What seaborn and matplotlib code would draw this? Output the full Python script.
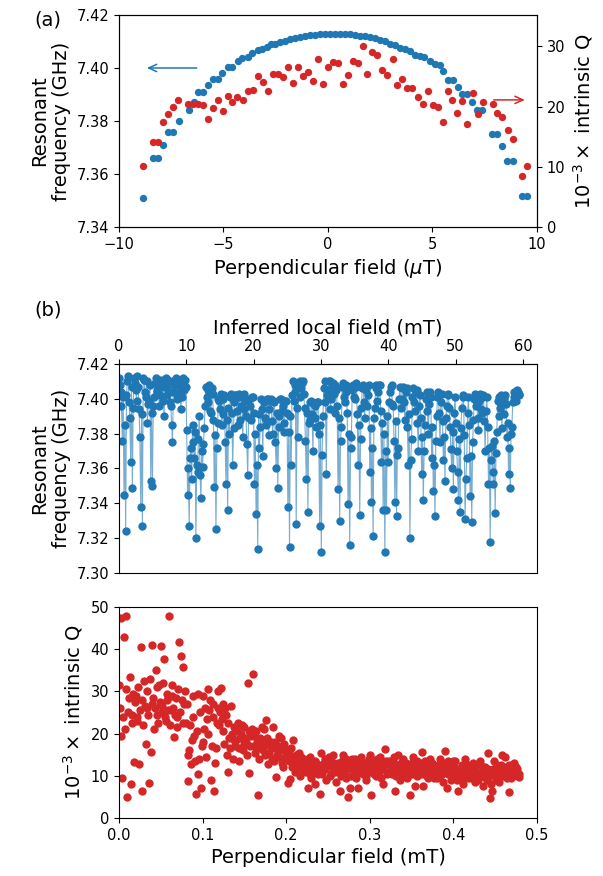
import matplotlib
matplotlib.use('Agg')
import matplotlib.pyplot as plt
import seaborn as sns
import numpy as np

# colours
BLUE = '#1f77b4'
RED = '#d62728'

# ---- panel (a): small field sweep (uT) ----
blue_field = [-8.87, -8.36, -8.12, -7.88, -7.64, -7.40, -7.14, -6.65, -6.40, -6.21,
              -5.97, -5.76, -5.52, -5.28, -5.05, -4.80, -4.58, -4.32, -4.10, -3.84,
              -3.62, -3.36, -3.17, -2.93, -2.73, -2.54, -2.30, -2.06, -1.82, -1.58,
              -1.34, -1.10, -0.86, -0.62, -0.38, -0.14, 0.10, 0.34, 0.58, 0.82,
              1.06, 1.30, 1.54, 1.78, 2.01, 2.25, 2.49, 2.73, 2.97, 3.21,
              3.44, 3.68, 3.92, 4.16, 4.40, 4.59, 4.88, 5.12, 5.36, 5.50,
              5.73, 5.96, 6.20, 6.39, 6.63, 6.87, 7.14, 7.38, 7.86, 8.10,
              8.35, 8.57, 8.83, 9.27, 9.51]
blue_freq = [7.351, 7.366, 7.366, 7.371, 7.376, 7.376, 7.380, 7.384, 7.387, 7.391,
             7.391, 7.3935, 7.396, 7.396, 7.398, 7.4005, 7.4005, 7.4025, 7.4038, 7.404,
             7.4055, 7.4068, 7.407, 7.408, 7.409, 7.4092, 7.4098, 7.4103, 7.411, 7.4112,
             7.4118, 7.412, 7.4123, 7.4125, 7.4127, 7.4128, 7.4129, 7.413, 7.4129, 7.4128,
             7.4127, 7.4125, 7.4122, 7.412, 7.4117, 7.4115, 7.4105, 7.410, 7.409, 7.4085,
             7.4075, 7.407, 7.4065, 7.405, 7.4045, 7.404, 7.4025, 7.4015, 7.401, 7.399,
             7.3955, 7.3955, 7.393, 7.390, 7.390, 7.387, 7.384, 7.384, 7.375, 7.375,
             7.3705, 7.365, 7.365, 7.3515, 7.3515]

red_field = [-8.84, -8.36, -8.12, -7.88, -7.64, -7.40, -7.16, -6.68, -6.44, -6.21,
             -5.97, -5.76, -5.52, -5.28, -5.04, -4.80, -4.58, -4.34, -4.08, -3.84,
             -3.60, -3.36, -3.12, -2.86, -2.62, -2.38, -2.14, -1.93, -1.69, -1.45,
             -1.21, -0.97, -0.73, -0.49, -0.25, -0.01, 0.25, 0.49, 0.73, 0.97,
             1.21, 1.45, 1.69, 1.88, 2.09, 2.33, 2.60, 2.84, 3.09, 3.32,
             3.56, 3.80, 4.04, 4.29, 4.53, 4.80, 5.01, 5.28, 5.52, 5.73,
             5.92, 6.19, 6.43, 6.67, 6.92, 7.16, 7.40, 7.91, 8.10, 8.35,
             8.59, 8.83, 9.26, 9.50]
red_q = [10.2, 14.1, 14.1, 17.5, 18.7, 20.0, 21.0, 20.5, 20.5, 20.5,
         20.3, 17.9, 19.7, 21.0, 19.2, 21.8, 20.7, 21.6, 21.1, 22.5,
         22.7, 25.0, 24.1, 22.5, 25.4, 25.4, 24.9, 26.5, 23.9, 26.5,
         25.1, 25.8, 24.3, 27.9, 23.7, 26.5, 27.4, 27.2, 23.7, 25.2,
         27.6, 27.2, 30.1, 25.4, 29.1, 28.6, 26.0, 25.2, 27.9, 23.5,
         24.6, 23.0, 23.0, 21.5, 20.5, 22.6, 20.3, 19.9, 17.4, 22.6,
         21.1, 18.9, 20.9, 17.1, 22.2, 18.7, 20.7, 20.5, 18.9, 18.2,
         16.1, 14.6, 8.4, 10.2]

# ---- panel (b): large field sweep (mT) ----
field_b = [0.000, 0.001, 0.002, 0.003, 0.004, 0.005, 0.006, 0.007, 0.008, 0.009,
           0.010, 0.011, 0.012, 0.013, 0.014, 0.015, 0.016, 0.017, 0.018, 0.019,
           0.020, 0.021, 0.022, 0.023, 0.024, 0.025, 0.026, 0.027, 0.028, 0.029,
           0.030, 0.031, 0.032, 0.033, 0.034, 0.035, 0.036, 0.037, 0.038, 0.039,
           0.040, 0.041, 0.042, 0.043, 0.044, 0.045, 0.046, 0.047, 0.048, 0.049,
           0.050, 0.051, 0.052, 0.053, 0.054, 0.055, 0.056, 0.057, 0.058, 0.059,
           0.060, 0.061, 0.062, 0.063, 0.064, 0.065, 0.066, 0.067, 0.068, 0.069,
           0.070, 0.071, 0.072, 0.073, 0.074, 0.075, 0.076, 0.077, 0.078, 0.079,
           0.080, 0.081, 0.082, 0.083, 0.084, 0.085, 0.086, 0.087, 0.088, 0.089,
           0.090, 0.091, 0.092, 0.093, 0.094, 0.095, 0.096, 0.097, 0.098, 0.099,
           0.100, 0.101, 0.102, 0.103, 0.104, 0.105, 0.106, 0.107, 0.108, 0.109,
           0.110, 0.111, 0.112, 0.113, 0.114, 0.115, 0.116, 0.117, 0.118, 0.119,
           0.120, 0.121, 0.122, 0.123, 0.124, 0.125, 0.126, 0.127, 0.128, 0.129,
           0.130, 0.131, 0.132, 0.133, 0.134, 0.135, 0.136, 0.137, 0.138, 0.139,
           0.140, 0.141, 0.142, 0.143, 0.144, 0.145, 0.146, 0.147, 0.148, 0.149,
           0.150, 0.151, 0.152, 0.153, 0.154, 0.155, 0.156, 0.157, 0.158, 0.159,
           0.160, 0.161, 0.162, 0.163, 0.164, 0.165, 0.166, 0.167, 0.168, 0.169,
           0.170, 0.171, 0.172, 0.173, 0.174, 0.175, 0.176, 0.177, 0.178, 0.179,
           0.180, 0.181, 0.182, 0.183, 0.184, 0.185, 0.186, 0.187, 0.188, 0.189,
           0.190, 0.191, 0.192, 0.193, 0.194, 0.195, 0.196, 0.197, 0.198, 0.199,
           0.200, 0.201, 0.202, 0.203, 0.204, 0.205, 0.206, 0.207, 0.208, 0.209,
           0.210, 0.211, 0.212, 0.213, 0.214, 0.215, 0.216, 0.217, 0.218, 0.219,
           0.220, 0.221, 0.222, 0.223, 0.224, 0.225, 0.226, 0.227, 0.228, 0.229,
           0.230, 0.231, 0.232, 0.233, 0.234, 0.235, 0.236, 0.237, 0.238, 0.239,
           0.240, 0.241, 0.242, 0.243, 0.244, 0.245, 0.246, 0.247, 0.248, 0.249,
           0.250, 0.251, 0.252, 0.253, 0.254, 0.255, 0.256, 0.257, 0.258, 0.259,
           0.260, 0.261, 0.262, 0.263, 0.264, 0.265, 0.266, 0.267, 0.268, 0.269,
           0.270, 0.271, 0.272, 0.273, 0.274, 0.275, 0.276, 0.277, 0.278, 0.279,
           0.280, 0.281, 0.282, 0.283, 0.284, 0.285, 0.286, 0.287, 0.288, 0.289,
           0.290, 0.291, 0.292, 0.293, 0.294, 0.295, 0.296, 0.297, 0.298, 0.299,
           0.300, 0.301, 0.302, 0.303, 0.304, 0.305, 0.306, 0.307, 0.308, 0.309,
           0.310, 0.311, 0.312, 0.313, 0.314, 0.315, 0.316, 0.317, 0.318, 0.319,
           0.320, 0.321, 0.322, 0.323, 0.324, 0.325, 0.326, 0.327, 0.328, 0.329,
           0.330, 0.331, 0.332, 0.333, 0.334, 0.335, 0.336, 0.337, 0.338, 0.339,
           0.340, 0.341, 0.342, 0.343, 0.344, 0.345, 0.346, 0.347, 0.348, 0.349,
           0.350, 0.351, 0.352, 0.353, 0.354, 0.355, 0.356, 0.357, 0.358, 0.359,
           0.360, 0.361, 0.362, 0.363, 0.364, 0.365, 0.366, 0.367, 0.368, 0.369,
           0.370, 0.371, 0.372, 0.373, 0.374, 0.375, 0.376, 0.377, 0.378, 0.379,
           0.380, 0.381, 0.382, 0.383, 0.384, 0.385, 0.386, 0.387, 0.388, 0.389,
           0.390, 0.391, 0.392, 0.393, 0.394, 0.395, 0.396, 0.397, 0.398, 0.399,
           0.400, 0.401, 0.402, 0.403, 0.404, 0.405, 0.406, 0.407, 0.408, 0.409,
           0.410, 0.411, 0.412, 0.413, 0.414, 0.415, 0.416, 0.417, 0.418, 0.419,
           0.420, 0.421, 0.422, 0.423, 0.424, 0.425, 0.426, 0.427, 0.428, 0.429,
           0.430, 0.431, 0.432, 0.433, 0.434, 0.435, 0.436, 0.437, 0.438, 0.439,
           0.440, 0.441, 0.442, 0.443, 0.444, 0.445, 0.446, 0.447, 0.448, 0.449,
           0.450, 0.451, 0.452, 0.453, 0.454, 0.455, 0.456, 0.457, 0.458, 0.459,
           0.460, 0.461, 0.462, 0.463, 0.464, 0.465, 0.466, 0.467, 0.468, 0.469,
           0.470, 0.471, 0.472, 0.473, 0.474, 0.475, 0.476, 0.477, 0.478, 0.479]

freq_b = [
    7.412, 7.408, 7.404, 7.396, 7.376, 7.401, 7.345, 7.385, 7.324, 7.402, 7.410, 7.413, 7.398, 7.389, 7.364, 7.407, 7.349, 7.395, 7.412, 7.409,
    7.405, 7.399, 7.413, 7.407, 7.394, 7.378, 7.338, 7.391, 7.327, 7.412, 7.411, 7.404, 7.401, 7.410, 7.386, 7.397, 7.399, 7.408, 7.353, 7.392,
    7.350, 7.396, 7.401, 7.409, 7.412, 7.404, 7.405, 7.411, 7.396, 7.402, 7.411, 7.407, 7.408, 7.399, 7.390, 7.410, 7.412, 7.406, 7.402, 7.411,
    7.410, 7.398, 7.396, 7.385, 7.375, 7.404, 7.408, 7.411, 7.412, 7.400, 7.403, 7.409, 7.411, 7.406, 7.394, 7.401, 7.412, 7.409, 7.405, 7.411,
    7.407, 7.382, 7.345, 7.360, 7.327, 7.366, 7.372, 7.354, 7.385, 7.375, 7.366, 7.381, 7.320, 7.362, 7.358, 7.377, 7.390, 7.356, 7.343, 7.370,
    7.361, 7.374, 7.383, 7.396, 7.407, 7.401, 7.398, 7.405, 7.408, 7.393, 7.392, 7.406, 7.403, 7.388, 7.3495, 7.379, 7.325, 7.372, 7.386, 7.400,
    7.399, 7.394, 7.403, 7.385, 7.391, 7.400, 7.402, 7.375, 7.351, 7.388, 7.336, 7.395, 7.380, 7.401, 7.403, 7.392, 7.362, 7.383, 7.398, 7.402,
    7.402, 7.393, 7.385, 7.401, 7.403, 7.388, 7.396, 7.402, 7.378, 7.394, 7.403, 7.399, 7.390, 7.374, 7.356, 7.389, 7.400, 7.396, 7.388, 7.401,
    7.401, 7.392, 7.351, 7.380, 7.334, 7.362, 7.314, 7.391, 7.372, 7.384, 7.400, 7.394, 7.367, 7.399, 7.398, 7.389, 7.385, 7.400, 7.400, 7.379,
    7.394, 7.399, 7.400, 7.387, 7.380, 7.398, 7.399, 7.375, 7.360, 7.392, 7.349, 7.384, 7.390, 7.400, 7.400, 7.393, 7.396, 7.381, 7.386, 7.399,
    7.399, 7.392, 7.338, 7.381, 7.315, 7.390, 7.362, 7.402, 7.410, 7.399, 7.404, 7.408, 7.328, 7.395, 7.378, 7.407, 7.410, 7.401, 7.406, 7.409,
    7.410, 7.403, 7.395, 7.376, 7.354, 7.392, 7.335, 7.386, 7.388, 7.398, 7.399, 7.391, 7.370, 7.397, 7.396, 7.389, 7.384, 7.398, 7.398, 7.380,
    7.327, 7.385, 7.312, 7.368, 7.390, 7.406, 7.410, 7.398, 7.357, 7.402, 7.405, 7.410, 7.410, 7.394, 7.400, 7.407, 7.409, 7.403, 7.392, 7.408,
    7.405, 7.396, 7.348, 7.389, 7.330, 7.376, 7.384, 7.407, 7.409, 7.401, 7.398, 7.408, 7.404, 7.392, 7.3395, 7.380, 7.316, 7.372, 7.378, 7.405,
    7.408, 7.401, 7.400, 7.407, 7.409, 7.391, 7.362, 7.385, 7.3335, 7.377, 7.395, 7.406, 7.408, 7.398, 7.389, 7.405, 7.407, 7.396, 7.402, 7.408,
    7.358, 7.383, 7.341, 7.372, 7.321, 7.389, 7.395, 7.406, 7.408, 7.399, 7.404, 7.408, 7.408, 7.393, 7.364, 7.386, 7.336, 7.380, 7.312, 7.370,
    7.336, 7.390, 7.364, 7.398, 7.404, 7.407, 7.408, 7.397, 7.396, 7.376, 7.341, 7.387, 7.3325, 7.368, 7.372, 7.400, 7.407, 7.395, 7.400, 7.406,
    7.407, 7.398, 7.388, 7.404, 7.406, 7.384, 7.362, 7.391, 7.320, 7.365, 7.377, 7.401, 7.406, 7.398, 7.393, 7.404, 7.405, 7.386, 7.370, 7.396,
    7.402, 7.389, 7.357, 7.378, 7.342, 7.370, 7.385, 7.400, 7.404, 7.393, 7.380, 7.397, 7.404, 7.401, 7.366, 7.384, 7.347, 7.362, 7.333, 7.376,
    7.390, 7.401, 7.404, 7.392, 7.375, 7.398, 7.403, 7.387, 7.365, 7.378, 7.353, 7.389, 7.396, 7.402, 7.403, 7.395, 7.384, 7.371, 7.360, 7.381,
    7.348, 7.392, 7.401, 7.386, 7.370, 7.358, 7.342, 7.377, 7.335, 7.383, 7.395, 7.401, 7.402, 7.379, 7.331, 7.354, 7.366, 7.392, 7.401, 7.385,
    7.344, 7.367, 7.329, 7.375, 7.388, 7.400, 7.403, 7.396, 7.398, 7.389, 7.382, 7.399, 7.403, 7.394, 7.392, 7.401, 7.402, 7.387, 7.370, 7.393,
    7.401, 7.384, 7.351, 7.372, 7.318, 7.365, 7.373, 7.358, 7.351, 7.376, 7.3345, 7.369, 7.381, 7.399, 7.401, 7.390, 7.395, 7.402, 7.383, 7.397,
    7.400, 7.391, 7.402, 7.397, 7.378, 7.386, 7.357, 7.372, 7.349, 7.380, 7.384, 7.398, 7.401, 7.404, 7.403, 7.399, 7.405, 7.404, 7.402, 7.403]

q_b = [
    31.5, 26.0, 47.3, 19.5, 9.5, 24.0, 43.0, 21.0, 47.8, 30.5, 5.0, 25.0, 28.5, 33.5, 8.1, 22.5, 24.5, 29.5, 13.2, 27.5,
    29.0, 23.0, 24.0, 31.0, 12.7, 25.5, 40.5, 28.0, 6.3, 22.0, 32.5, 26.5, 17.6, 30.0, 26.0, 24.5, 8.3, 33.0, 15.6, 27.0,
    41.0, 28.5, 21.2, 26.0, 35.0, 31.0, 24.5, 22.5, 31.5, 27.5, 40.8, 25.0, 26.5, 32.0, 37.6, 24.0, 23.0, 28.0, 29.5, 25.5,
    47.8, 22.0, 25.5, 29.0, 31.5, 26.0, 19.2, 24.5, 28.5, 21.5, 24.0, 30.5, 41.7, 25.0, 38.3, 28.0, 35.7, 22.5, 27.0, 30.0,
    22.5, 27.0, 8.7, 15.0, 16.0, 22.0, 12.8, 18.5, 24.0, 29.0, 19.5, 13.5, 5.7, 20.5, 29.5, 10.5, 14.0, 25.0, 7.2, 17.0,
    29.0, 18.0, 21.0, 26.0, 14.5, 23.5, 30.6, 20.0, 25.5, 28.0, 9.0, 17.0, 27.0, 24.0, 6.5, 13.0, 16.5, 22.5, 30.2, 26.0,
    22.0, 25.0, 30.7, 23.5, 27.0, 20.5, 17.5, 26.0, 24.5, 15.0, 10.9, 22.5, 19.0, 16.5, 26.5, 20.0, 14.0, 18.5, 21.5, 17.0,
    18.5, 20.5, 22.5, 16.5, 13.5, 19.0, 20.0, 22.0, 16.0, 17.5, 21.5, 19.0, 18.0, 15.0, 32.0, 20.5, 10.7, 17.0, 19.5, 21.0,
    34.2, 19.5, 17.0, 15.5, 20.5, 18.0, 5.4, 16.5, 14.0, 19.0, 18.5, 21.5, 16.0, 17.5, 21.0, 15.0, 23.3, 19.0, 12.7, 17.5,
    15.5, 17.0, 18.0, 14.0, 21.5, 16.5, 13.5, 18.0, 9.7, 15.0, 17.0, 19.5, 14.5, 16.0, 19.0, 13.0, 12.0, 17.5, 16.0, 14.5,
    14.0, 16.0, 8.3, 13.5, 9.3, 15.0, 16.5, 12.0, 18.4, 14.5, 11.0, 13.0, 15.0, 12.5, 13.0, 15.5, 10.0, 12.0, 14.5, 11.5,
    12.0, 14.0, 13.5, 11.5, 11.0, 12.5, 7.0, 13.0, 14.5, 10.5, 9.5, 12.0, 12.0, 11.0, 8.0, 13.5, 13.0, 11.0, 10.5, 12.5,
    5.6, 12.0, 15.5, 10.5, 11.5, 13.0, 14.0, 11.5, 9.0, 12.5, 12.5, 14.5, 13.5, 10.0, 10.5, 12.0, 15.0, 13.0, 11.0, 12.5,
    8.5, 11.5, 13.0, 12.0, 6.3, 10.5, 10.0, 13.5, 15.0, 11.0, 12.0, 14.0, 9.5, 11.5, 4.9, 12.5, 7.0, 10.0, 12.5, 14.0,
    11.5, 13.0, 14.0, 10.5, 9.5, 12.0, 7.2, 11.0, 12.0, 13.5, 14.5, 11.5, 10.5, 12.5, 13.0, 10.0, 9.0, 12.0, 11.5, 14.0,
    15.0, 12.0, 5.4, 11.0, 12.5, 10.5, 13.5, 12.0, 10.0, 14.0, 12.0, 11.0, 14.5, 13.0, 9.5, 11.5, 8.0, 12.5, 16.3, 13.5,
    13.0, 10.5, 11.0, 13.5, 12.5, 11.0, 10.5, 12.0, 13.5, 14.5, 6.3, 10.0, 11.0, 12.5, 15.0, 11.5, 9.0, 13.0, 12.0, 10.5,
    14.0, 12.0, 10.0, 13.0, 12.5, 9.5, 11.5, 12.5, 5.4, 11.0, 13.0, 10.5, 14.5, 11.5, 7.6, 12.0, 10.0, 13.5, 12.5, 11.0,
    11.0, 13.0, 15.6, 10.5, 7.6, 12.0, 13.5, 11.5, 12.0, 10.0, 9.5, 12.5, 14.0, 11.0, 10.5, 13.0, 12.5, 9.5, 11.0, 12.0,
    9.5, 11.5, 12.5, 10.0, 14.0, 12.0, 10.5, 13.0, 8.5, 11.0, 15.8, 12.5, 7.1, 10.5, 13.5, 11.0, 11.0, 9.0, 12.0, 13.5,
    10.0, 12.0, 13.5, 11.0, 9.0, 10.5, 6.3, 11.5, 11.5, 9.0, 12.5, 10.0, 8.0, 12.0, 14.0, 10.5, 10.5, 12.5, 9.5, 11.0,
    12.0, 9.5, 10.5, 11.5, 13.0, 10.0, 8.5, 12.5, 11.0, 9.0, 9.5, 11.0, 13.5, 10.5, 10.0, 12.0, 7.5, 10.5, 12.0, 9.5,
    9.0, 11.5, 15.4, 10.0, 4.7, 8.0, 6.3, 10.5, 11.5, 13.5, 10.0, 9.0, 12.5, 11.0, 8.5, 10.5, 11.0, 12.5, 14.9, 10.0,
    10.5, 12.0, 14.5, 11.0, 9.5, 10.5, 6.2, 12.5, 11.0, 9.5, 12.5, 10.0, 13.0, 11.5, 10.5, 12.0, 11.5, 10.0, 9.8, 10.5]

# perpendicular field (mT) -> inferred local field (mT)
LOCAL_FACTOR = 124.2

sns.set_style('ticks', rc={'axes.edgecolor': 'black', 'text.color': 'black',
                           'axes.labelcolor': 'black', 'xtick.color': 'black',
                           'ytick.color': 'black'})
plt.rcParams['font.family'] = ['DejaVu Sans']
plt.rcParams['font.size'] = 10.5
plt.rcParams['axes.labelsize'] = 14
plt.rcParams['xtick.labelsize'] = 10.5
plt.rcParams['ytick.labelsize'] = 10.5

fig = plt.figure(figsize=(6.03, 8.76), dpi=100)
ax_a = fig.add_axes([0.1973, 0.7409, 0.6932, 0.2420])
ax_b1 = fig.add_axes([0.1973, 0.3459, 0.6932, 0.2386])
ax_b2 = fig.add_axes([0.1973, 0.0662, 0.6932, 0.2409])

#panel (a)
sns.scatterplot(x=blue_field, y=blue_freq, ax=ax_a, color=BLUE, s=28, linewidth=0)
ax_a.set_xlim(-10, 10)
ax_a.set_ylim(7.34, 7.42)
ax_a.set_xticks([-10, -5, 0, 5, 10])
ax_a.set_yticks([7.34, 7.36, 7.38, 7.40, 7.42])
ax_a.set_yticklabels(['7.34', '7.36', '7.38', '7.40', '7.42'])
ax_a.set_xlabel(r'Perpendicular field ($\mu$T)')
ax_a.set_ylabel('Resonant\nfrequency (GHz)')

ax_q = ax_a.twinx()
sns.scatterplot(x=red_field, y=red_q, ax=ax_q, color=RED, s=28, linewidth=0)
ax_q.set_ylim(0, 35.2)
ax_q.set_yticks([0, 10, 20, 30])
ax_q.set_ylabel(r'$10^{-3}\times$ intrinsic Q')

ax_a.annotate('', xy=(-8.8, 7.40), xytext=(-6.15, 7.40),
              arrowprops=dict(arrowstyle='->,head_length=0.55,head_width=0.25', color=BLUE, lw=1.1))
ax_q.annotate('', xy=(9.55, 21.1), xytext=(7.8, 21.1),
              arrowprops=dict(arrowstyle='->,head_length=0.55,head_width=0.25', color=RED, lw=1.1))

#panel (b) top: frequency vs field
sns.lineplot(x=field_b, y=freq_b, ax=ax_b1, sort=False, estimator=None,
             color=BLUE, lw=0.8, alpha=0.6)
sns.scatterplot(x=field_b, y=freq_b, ax=ax_b1, color=BLUE, s=36, linewidth=0)
ax_b1.set_xlim(0, 0.5)
ax_b1.set_ylim(7.30, 7.42)
ax_b1.set_yticks([7.30, 7.32, 7.34, 7.36, 7.38, 7.40, 7.42])
ax_b1.set_yticklabels(['7.30', '7.32', '7.34', '7.36', '7.38', '7.40', '7.42'])
ax_b1.tick_params(axis='x', bottom=False, labelbottom=False)
ax_b1.set_xlabel('')
ax_b1.set_ylabel('Resonant\nfrequency (GHz)')
top = ax_b1.secondary_xaxis('top', functions=(lambda x: x * LOCAL_FACTOR,
                                              lambda x: x / LOCAL_FACTOR))
top.set_xticks([0, 10, 20, 30, 40, 50, 60])
top.set_xlabel('Inferred local field (mT)')

#panel (b) bottom: Q vs field
sns.scatterplot(x=field_b, y=q_b, ax=ax_b2, color=RED, s=36, linewidth=0)
ax_b2.set_xlim(0, 0.5)
ax_b2.set_ylim(0, 50)
ax_b2.set_xticks([0, 0.1, 0.2, 0.3, 0.4, 0.5])
ax_b2.set_xticklabels(['0.0', '0.1', '0.2', '0.3', '0.4', '0.5'])
ax_b2.set_yticks([0, 10, 20, 30, 40, 50])
ax_b2.set_xlabel('Perpendicular field (mT)')
ax_b2.set_ylabel(r'$10^{-3}\times$ intrinsic Q')

fig.text(0.080, 0.977, '(a)', ha='center', va='center', fontsize=14)
fig.text(0.080, 0.646, '(b)', ha='center', va='center', fontsize=14)

fig.savefig('out.png', dpi=100)
